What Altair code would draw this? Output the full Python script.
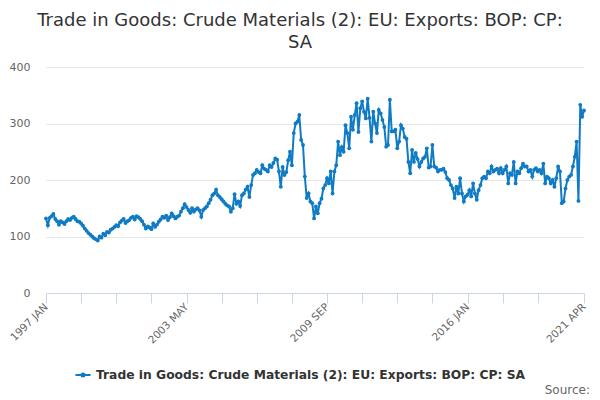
import altair as alt
import pandas as pd

FONT = "DejaVu Sans"
BLUE = "#0f7bc4"
SERIES = "Trade in Goods: Crude Materials (2): EU: Exports: BOP: CP: SA"
TITLE_LINES = ["Trade in Goods: Crude Materials (2): EU: Exports: BOP: CP:", "SA"]

FIRST_YEAR = 1997
MONTHS = ["JAN", "FEB", "MAR", "APR", "MAY", "JUN",
          "JUL", "AUG", "SEP", "OCT", "NOV", "DEC"]

# monthly values, Jan 1997 .. Apr 2021
exports = [
    132, 120, 133, 136, 140, 131, 127, 121, 127, 125, 122, 127,  # 1997
    131, 129, 133, 135, 131, 127, 126, 123, 119, 114, 110, 106,  # 1998
    103, 100, 97, 95, 93, 100, 98, 105, 102, 108, 107, 112,      # 1999
    114, 117, 120, 118, 125, 128, 131, 124, 127, 129, 133, 135,  # 2000
    130, 136, 134, 131, 127, 121, 114, 118, 116, 113, 123, 117,  # 2001
    121, 126, 130, 135, 133, 137, 129, 134, 141, 136, 132, 135,  # 2002
    137, 144, 150, 157, 152, 147, 142, 150, 144, 148, 150, 146,  # 2003
    135, 147, 150, 153, 159, 165, 173, 176, 183, 173, 170, 166,  # 2004
    162, 158, 155, 153, 144, 150, 175, 158, 162, 154, 173, 176,  # 2005
    183, 188, 170, 191, 209, 212, 218, 214, 212, 226, 220, 218,  # 2006
    215, 226, 223, 230, 238, 236, 215, 188, 223, 209, 214, 235,  # 2007
    250, 226, 283, 300, 303, 315, 271, 262, 206, 168, 176, 162,  # 2008
    159, 132, 153, 141, 159, 167, 185, 191, 203, 194, 215, 176,  # 2009
    215, 226, 268, 244, 258, 250, 297, 283, 256, 312, 289, 315,  # 2010
    336, 285, 327, 339, 321, 309, 344, 310, 268, 321, 300, 283,  # 2011
    324, 318, 306, 294, 259, 262, 342, 286, 286, 289, 256, 268,  # 2012
    297, 291, 276, 273, 232, 212, 253, 232, 248, 237, 224, 232,  # 2013
    238, 241, 256, 222, 224, 262, 224, 222, 215, 218, 218, 220,  # 2014
    214, 203, 200, 191, 185, 168, 188, 176, 203, 176, 162, 171,  # 2015
    174, 182, 171, 194, 176, 165, 182, 191, 203, 206, 203, 215,  # 2016
    212, 224, 215, 218, 220, 212, 221, 212, 218, 224, 194, 212,  # 2017
    209, 232, 194, 215, 212, 221, 229, 224, 224, 215, 218, 206,  # 2018
    218, 221, 215, 218, 212, 229, 194, 206, 203, 194, 200, 188,  # 2019
    203, 224, 215, 159, 162, 185, 200, 206, 209, 224, 241, 268,  # 2020
    163, 333, 312, 323,                                          # 2021
]

LABELED = ["1997 JAN", "2003 MAY", "2009 SEP", "2016 JAN", "2021 APR"]
TICK_STEP = 19
Y_TICKS = [0, 100, 200, 300, 400]

periods = [f"{FIRST_YEAR + i // 12} {MONTHS[i % 12]}" for i in range(len(exports))]
tick_values = periods[0:270:TICK_STEP] + [periods[-1]]
label_list = "[" + ",".join(f"'{p}'" for p in LABELED) + "]"

frame = pd.DataFrame({"period": periods, "value": exports, "series": SERIES})

x = alt.X(
    "period:O",
    sort=None,
    scale=alt.Scale(type="point", padding=0),
    axis=alt.Axis(
        title=None,
        values=tick_values,
        labelExpr=f"indexof({label_list}, datum.value) >= 0 ? datum.value : ''",
        labelAngle=-45,
        labelAlign="right",
        labelBaseline="middle",
        labelFont=FONT,
        labelFontSize=10.5,
        labelColor="#666666",
        labelPadding=2,
        domainColor="#ccd6eb",
        tickColor="#ccd6eb",
        tickSize=10,
        grid=False,
    ),
)

y = alt.Y(
    "value:Q",
    scale=alt.Scale(domain=[0, 400], nice=False),
    axis=alt.Axis(
        title=None,
        values=Y_TICKS,
        labelFont=FONT,
        labelFontSize=11,
        labelColor="#666666",
        labelPadding=16,
        domain=False,
        ticks=False,
        gridColor="#e6e6e6",
    ),
)

color = alt.Color(
    "series:N",
    scale=alt.Scale(domain=[SERIES], range=[BLUE]),
    legend=alt.Legend(
        title=None,
        orient="none",
        legendX=28,
        legendY=299,
        direction="horizontal",
        labelFont=FONT,
        labelFontSize=12.3,
        labelFontWeight="bold",
        labelColor="#333333",
        labelLimit=700,
        labelOffset=4,
        symbolType="M-1,0L1,0M-0.2,0A0.2,0.2,0,1,1,0.2,0A0.2,0.2,0,1,1,-0.2,0",
        symbolStrokeWidth=2,
        symbolSize=230,
    ),
)

base = alt.Chart(frame).encode(x=x, y=y, color=color)
line = base.mark_line(strokeWidth=2)
dots = base.mark_circle(size=15, opacity=1)

source = (
    alt.Chart(pd.DataFrame({"note": ["Source:"]}))
    .mark_text(align="right", baseline="alphabetic", font=FONT, fontSize=12, color="#666666")
    .encode(x=alt.value(544), y=alt.value(327), text="note:N")
)

chart = (
    alt.layer(line, dots, source)
    .properties(
        width=538,
        height=226,
        autosize=alt.AutoSizeParams(type="none"),
        padding={"left": 38, "top": 59, "right": 8, "bottom": 105},
        title=alt.TitleParams(
            text=TITLE_LINES,
            font=FONT,
            fontSize=18,
            fontWeight="normal",
            color="#333333",
            anchor="middle",
            dx=-15,
            offset=9,
            lineHeight=22,
        ),
    )
    .configure_view(stroke=None)
)

chart.save("out.html", embed_options={"renderer": "svg", "actions": False})
